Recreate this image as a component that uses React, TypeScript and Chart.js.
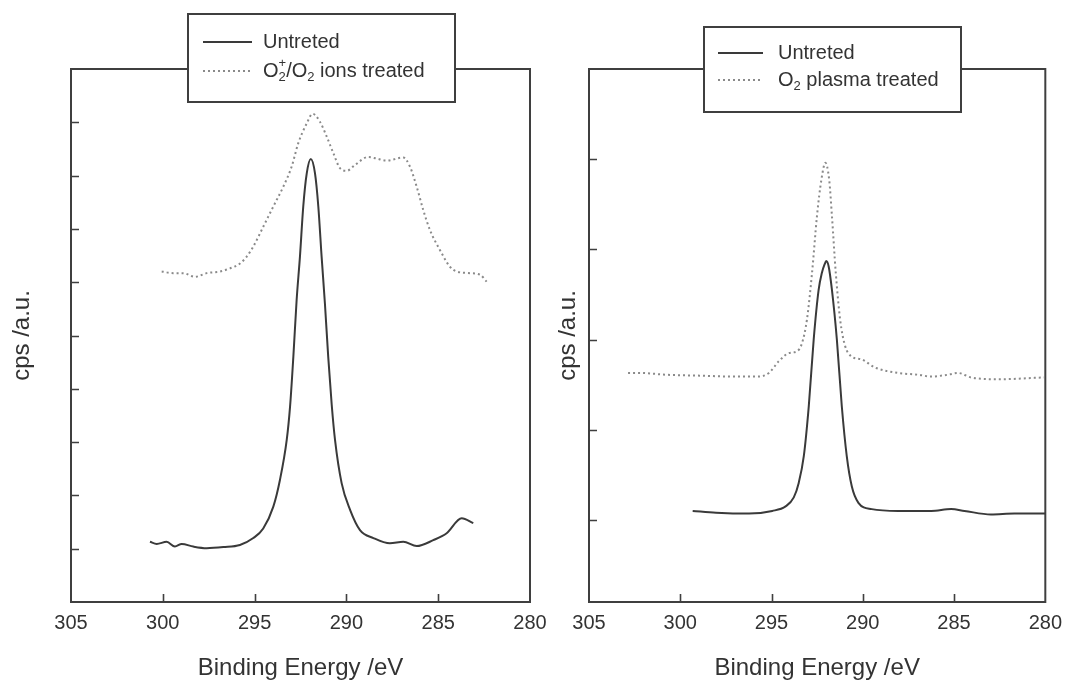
import React, { useEffect, useRef } from 'react';
import { Chart, registerables } from 'chart.js';

Chart.register(...registerables);

// ---------- data ----------
const xTickValues = [300, 295, 290, 285];

// Left panel: Untreted vs O2+/O2 ions treated
const leftUntretedEnergy = [
  300.7, 300.33, 299.79, 299.34, 298.97, 298.34, 297.61, 296.7, 295.8, 295.07,
  294.53, 293.98, 293.62, 293.25, 293.07, 292.89, 292.71, 292.53, 292.35, 292.16,
  291.94, 291.71, 291.53, 291.35, 291.17, 290.99, 290.8, 290.62, 290.26, 289.8,
  289.26, 288.53, 287.63, 286.9, 286.17, 285.27, 284.54, 283.72, 283.09,
];
const leftUntretedCps = [
  1.13, 1.09, 1.13, 1.04, 1.09, 1.04, 1.01, 1.03, 1.07, 1.2,
  1.38, 1.79, 2.29, 3.04, 3.66, 4.6, 5.67, 6.48, 7.42, 8.04,
  8.31, 8.04, 7.42, 6.48, 5.6, 4.6, 3.7, 3.04, 2.23, 1.73,
  1.35, 1.2, 1.1, 1.13, 1.05, 1.16, 1.29, 1.57, 1.48,
];
const leftIonsEnergy = [
  300.06, 299.43, 298.88, 298.25, 297.61, 296.88, 296.34, 295.8, 295.43, 295.07,
  294.53, 293.98, 293.44, 292.98, 292.62, 292.16, 291.84, 291.44, 291.07, 290.71,
  290.35, 289.98, 289.53, 288.81, 288.35, 287.81, 286.9, 286.54, 286.17, 285.81,
  285.45, 284.9, 284.36, 283.99, 283.27, 282.72, 282.36,
];
const leftIonsCps = [
  6.2, 6.17, 6.17, 6.1, 6.17, 6.2, 6.26, 6.35, 6.48, 6.67,
  7.04, 7.42, 7.79, 8.17, 8.61, 8.98, 9.16, 9.01, 8.73, 8.42,
  8.14, 8.09, 8.2, 8.35, 8.32, 8.28, 8.34, 8.17, 7.79, 7.35,
  6.98, 6.6, 6.29, 6.2, 6.17, 6.14, 6.01,
];
const leftYTicks = [1, 2, 3, 4, 5, 6, 7, 8, 9];

// Right panel: Untreted vs O2 plasma treated
const rightUntretedEnergy = [
  299.32, 298.04, 296.23, 294.96, 294.23, 293.78, 293.51, 293.23, 292.96, 292.69,
  292.42, 292.24, 292.1, 292.0, 291.87, 291.69, 291.42, 291.15, 290.88, 290.6,
  290.24, 289.51, 288.06, 286.25, 285.16, 284.43, 282.98, 281.7, 279.98,
];
const rightUntretedCps = [
  0.1, 0.08, 0.07, 0.1, 0.15, 0.25, 0.41, 0.71, 1.26, 2.0,
  2.55, 2.74, 2.83, 2.87, 2.81, 2.55, 2.0, 1.26, 0.71, 0.37,
  0.19, 0.12, 0.1, 0.1, 0.12, 0.1, 0.06, 0.07, 0.07,
];
const rightPlasmaEnergy = [
  302.86, 302.22, 300.77, 298.95, 297.14, 295.69, 295.14, 294.6, 294.05, 293.6,
  293.33, 293.06, 292.78, 292.51, 292.27, 292.05, 291.84, 291.69, 291.48, 291.24,
  290.97, 290.6, 290.06, 289.33, 288.06, 286.97, 286.25, 285.34, 284.79, 284.07,
  282.61, 280.07,
];
const rightPlasmaCps = [
  1.63, 1.63, 1.61, 1.6, 1.59, 1.59, 1.63, 1.76, 1.85, 1.87,
  1.96, 2.22, 2.74, 3.37, 3.77, 3.96, 3.77, 3.37, 2.74, 2.22,
  1.93, 1.81, 1.78, 1.69, 1.63, 1.61, 1.59, 1.61, 1.63, 1.58,
  1.56, 1.58,
];
const rightYTicks = [0, 1, 2, 3, 4];

// legend labels (segments with sub/superscripts)
type Seg = { t: string; sub?: boolean; sup?: boolean };
const untretedLabel: Seg[] = [{ t: 'Untreted' }];
const ionsLabel: Seg[] = [
  { t: 'O' }, { t: '2', sub: true }, { t: '+', sup: true }, { t: '/O' }, { t: '2', sub: true }, { t: ' ions treated' },
];
const plasmaLabel: Seg[] = [{ t: 'O' }, { t: '2', sub: true }, { t: ' plasma treated' }];

// ---------- styles ----------
const FONT = '"Liberation Sans", Arial, Helvetica, sans-serif';
const FRAME = '#3f3f3f';
const TEXT = '#333333';
const SOLID = '#3a3a3a';
const DOTTED = '#8a8a8a';

const toPoints = (xs: number[], ys: number[]) => xs.map((x, i) => ({ x, y: ys[i] }));

const framePlugin = {
  id: 'frame',
  beforeDatasetsDraw(chart: any, _args: any, opts: any) {
    const { ctx, chartArea } = chart;
    const { left, right, top, bottom } = chartArea;
    ctx.save();
    ctx.strokeStyle = FRAME;
    ctx.lineWidth = 2;
    ctx.strokeRect(left, top, right - left, bottom - top);
    ctx.lineWidth = 1.6;
    const xs = chart.scales.x;
    const ys = chart.scales.y;
    ctx.beginPath();
    for (const v of opts.xTicks || []) {
      const px = Math.round(xs.getPixelForValue(v)) + 0.5;
      ctx.moveTo(px, bottom);
      ctx.lineTo(px, bottom - 8);
    }
    for (const v of opts.yTicks || []) {
      const py = Math.round(ys.getPixelForValue(v)) + 0.5;
      ctx.moveTo(left, py);
      ctx.lineTo(left + 8, py);
    }
    ctx.stroke();
    ctx.restore();
  },
};

function drawRich(ctx: CanvasRenderingContext2D, segs: Seg[], x: number, y: number, size: number) {
  let cx = x;
  let lastSubX = -1;
  let lastSubW = 0;
  ctx.textBaseline = 'middle';
  ctx.textAlign = 'left';
  for (const s of segs) {
    if (s.sub || s.sup) {
      const small = Math.round(size * 0.65);
      ctx.font = `${small}px ${FONT}`;
      const w = ctx.measureText(s.t).width;
      if (s.sub) {
        ctx.fillText(s.t, cx, y + size * 0.32);
        lastSubX = cx;
        lastSubW = w;
        cx += w;
      } else {
        const sx = lastSubX >= 0 && Math.abs(lastSubX + lastSubW - cx) < 0.01 ? lastSubX : cx;
        ctx.fillText(s.t, sx, y - size * 0.38);
        cx = Math.max(cx, sx + w);
        lastSubX = -1;
      }
    } else {
      ctx.font = `${size}px ${FONT}`;
      ctx.fillText(s.t, cx, y);
      cx += ctx.measureText(s.t).width;
      lastSubX = -1;
    }
  }
}

const legendPlugin = {
  id: 'richLegend',
  afterDraw(chart: any, _args: any, opts: any) {
    const { ctx } = chart;
    const b = opts.box;
    ctx.save();
    ctx.fillStyle = '#ffffff';
    ctx.fillRect(b.x, b.y, b.w, b.h);
    ctx.strokeStyle = FRAME;
    ctx.lineWidth = 2;
    ctx.strokeRect(b.x, b.y, b.w, b.h);
    opts.items.forEach((it: any, i: number) => {
      const ds = chart.data.datasets[i];
      const y = it.y;
      ctx.save();
      ctx.strokeStyle = ds.borderColor;
      ctx.lineWidth = ds.borderWidth;
      ctx.setLineDash(ds.borderDash || []);
      ctx.beginPath();
      ctx.moveTo(opts.sampleX1, y);
      ctx.lineTo(opts.sampleX2, y);
      ctx.stroke();
      ctx.restore();
      ctx.fillStyle = TEXT;
      drawRich(ctx, it.label, opts.textX, y, 20);
    });
    ctx.restore();
  },
};

type PanelSpec = {
  width: number;
  height: number;
  yMin: number;
  yMax: number;
  yTicks: number[];
  yAxisWidth: number;
  yTitlePad: number;
  padRight: number;
  datasets: any[];
  legend: any;
};

function makeConfig(p: PanelSpec): any {
  return {
    type: 'line',
    data: { datasets: p.datasets },
    options: {
      responsive: false,
      animation: false,
      events: [],
      layout: { padding: { left: 0, right: p.padRight, top: 69, bottom: 0 } },
      elements: { point: { radius: 0 } },
      scales: {
        x: {
          type: 'linear',
          reverse: true,
          min: 280,
          max: 305,
          afterBuildTicks: (s: any) => {
            s.ticks = [305, 300, 295, 290, 285, 280].map((v) => ({ value: v }));
          },
          afterFit: (s: any) => {
            s.height = 79;
          },
          grid: { display: false, drawTicks: false },
          border: { display: false },
          ticks: { color: TEXT, font: { family: FONT, size: 20 }, padding: 9, autoSkip: false, maxRotation: 0 },
          title: {
            display: true,
            text: 'Binding Energy /eV',
            color: TEXT,
            font: { family: FONT, size: 24, lineHeight: 1 },
            padding: { top: 0, bottom: 1 },
          },
        },
        y: {
          type: 'linear',
          min: p.yMin,
          max: p.yMax,
          afterBuildTicks: (s: any) => {
            s.ticks = p.yTicks.map((v) => ({ value: v }));
          },
          afterFit: (s: any) => {
            s.width = p.yAxisWidth;
          },
          grid: { display: false, drawTicks: false },
          border: { display: false },
          ticks: { display: false },
          title: {
            display: true,
            text: 'cps /a.u.',
            color: TEXT,
            font: { family: FONT, size: 24, lineHeight: 1 },
            padding: { top: p.yTitlePad, bottom: 0 },
          },
        },
      },
      plugins: {
        legend: { display: false },
        tooltip: { enabled: false },
        frame: { xTicks: xTickValues, yTicks: p.yTicks },
        richLegend: p.legend,
      },
    },
    plugins: [framePlugin, legendPlugin],
  };
}

const solidStyle = {
  borderColor: SOLID,
  borderWidth: 2,
  fill: false,
  cubicInterpolationMode: 'monotone',
  pointRadius: 0,
};
const dottedStyle = {
  borderColor: DOTTED,
  borderWidth: 2,
  borderDash: [2, 3],
  fill: false,
  cubicInterpolationMode: 'monotone',
  pointRadius: 0,
};

const leftSpec: PanelSpec = {
  width: 560,
  height: 681,
  yMin: 0,
  yMax: 10,
  yTicks: leftYTicks,
  yAxisWidth: 71,
  yTitlePad: 10,
  padRight: 30,
  datasets: [
    { label: 'Untreted', data: toPoints(leftUntretedEnergy, leftUntretedCps), ...solidStyle },
    { label: 'O2+/O2 ions treated', data: toPoints(leftIonsEnergy, leftIonsCps), ...dottedStyle },
  ],
  legend: {
    box: { x: 188, y: 14, w: 267, h: 88 },
    sampleX1: 203,
    sampleX2: 252,
    textX: 263,
    items: [
      { label: untretedLabel, y: 42 },
      { label: ionsLabel, y: 71 },
    ],
  },
};

const rightSpec: PanelSpec = {
  width: 521,
  height: 681,
  yMin: -0.91,
  yMax: 5,
  yTicks: rightYTicks,
  yAxisWidth: 39,
  yTitlePad: 6,
  padRight: 23,
  datasets: [
    { label: 'Untreted', data: toPoints(rightUntretedEnergy, rightUntretedCps), ...solidStyle },
    { label: 'O2 plasma treated', data: toPoints(rightPlasmaEnergy, rightPlasmaCps), ...dottedStyle },
  ],
  legend: {
    box: { x: 154, y: 27, w: 257, h: 85 },
    sampleX1: 168,
    sampleX2: 213,
    textX: 228,
    items: [
      { label: untretedLabel, y: 53 },
      { label: plasmaLabel, y: 80 },
    ],
  },
};

function Panel({ spec, left }: { spec: PanelSpec; left: number }) {
  const ref = useRef<HTMLCanvasElement | null>(null);
  useEffect(() => {
    if (!ref.current) return;
    const chart = new Chart(ref.current, makeConfig(spec));
    return () => chart.destroy();
  }, [spec]);
  return (
    <canvas
      ref={ref}
      width={spec.width}
      height={spec.height}
      style={{ position: 'absolute', left, top: 0, width: spec.width, height: spec.height }}
    />
  );
}

export default function App() {
  return (
    <div style={{ position: 'absolute', left: 0, top: 0, width: 1071, height: 681, background: '#ffffff', overflow: 'hidden' }}>
      <Panel spec={leftSpec} left={0} />
      <Panel spec={rightSpec} left={550} />
    </div>
  );
}
